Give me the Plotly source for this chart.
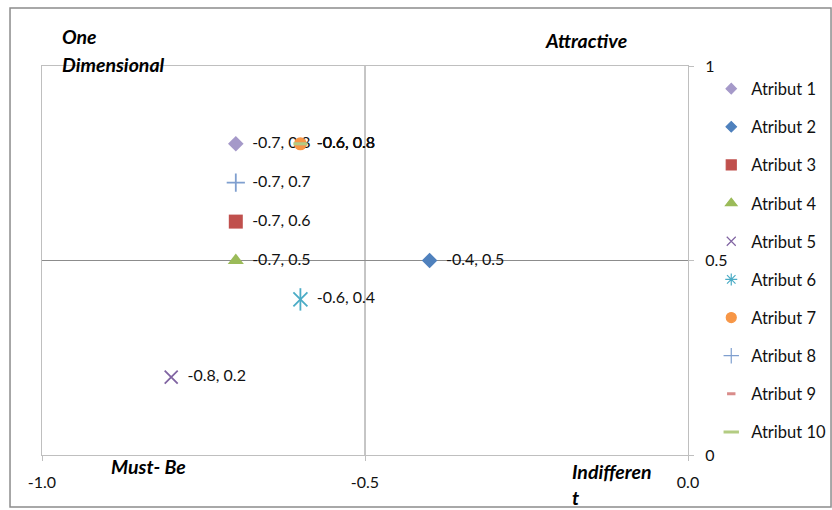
import plotly.graph_objects as go

# Kano quadrant positions of each attribute
names = ["Atribut 1", "Atribut 2", "Atribut 3", "Atribut 4", "Atribut 5",
         "Atribut 6", "Atribut 7", "Atribut 8", "Atribut 9", "Atribut 10"]
x_vals = [-0.7, -0.4, -0.7, -0.7, -0.8, -0.6, -0.6, -0.7, -0.6, -0.6]
y_vals = [0.8, 0.5, 0.6, 0.5, 0.2, 0.4, 0.8, 0.7, 0.8, 0.8]

colors = ["#A599C9", "#4F81BD", "#C0504D", "#9BBB59", "#8064A2",
          "#4BACC6", "#F79646", "#7F9FCF", "#D98C8A", "#B3CC82"]
symbols = ["diamond", "diamond", "square", "triangle-up", "x-thin-open",
           "x-thin-open", "circle", "cross-thin-open", "line-ew-open", "line-ew-open"]
sizes = [12, 12, 14, 14, 13, 14, 13, 13, 7, 10]
legend_sizes = [8, 8, 10, 10, 9, 10, 10, 11, 6, 11]

x_ticks = [-1.0, -0.5, 0.0]
x_ticktext = ["-1.0", "-0.5", "0.0"]
y_ticks = [0, 0.5, 1]
y_ticktext = ["0", "0.5", "1"]

FONT = "Lato"
GRID = "#BFBFBF"
MID = "#8C8C8C"
INK = "#111111"


def line_width(sym):
    if sym.startswith("line"):
        return 3
    return 1.8 if sym.endswith("-open") else 0


fig = go.Figure()

for i, name in enumerate(names):
    sym = symbols[i]
    mk = dict(symbol=sym, size=sizes[i], color=colors[i],
              line=dict(color=colors[i], width=line_width(sym)))
    fig.add_trace(go.Scatter(
        x=[x_vals[i]], y=[y_vals[i]], name=name, legendgroup=name,
        showlegend=False, mode="markers", marker=mk,
    ))
    if name == "Atribut 6":
        # vertical stroke completing the star marker
        fig.add_trace(go.Scatter(
            x=[x_vals[i]], y=[y_vals[i]], legendgroup=name, showlegend=False,
            mode="markers", hoverinfo="skip",
            marker=dict(symbol="line-ns-open", size=16, color=colors[i],
                        line=dict(color=colors[i], width=1.8)),
        ))
    # data label "x, y"
    fig.add_trace(go.Scatter(
        x=[x_vals[i]], y=[y_vals[i]], legendgroup=name, showlegend=False,
        mode="text", text=[f"    {x_vals[i]:.1f}, {y_vals[i]:.1f}"],
        textposition="middle right", hoverinfo="skip",
        textfont=dict(family=FONT, size=16, color=INK), cliponaxis=False,
    ))

# legend entries with compact symbols
for i, name in enumerate(names):
    sym = symbols[i]
    fig.add_trace(go.Scatter(
        x=[None], y=[None], name=name, legendgroup=name, mode="markers",
        marker=dict(symbol=sym if name != "Atribut 6" else "asterisk-open",
                    size=legend_sizes[i], color=colors[i],
                    line=dict(color=colors[i],
                              width=line_width(sym) if sym.startswith("line") else 1.2)),
    ))

# quadrant divider lines
fig.add_shape(type="line", x0=-0.5, x1=-0.5, y0=0, y1=1, xref="x", yref="y",
              line=dict(color=MID, width=1), layer="below")
fig.add_shape(type="line", x0=-1, x1=0, y0=0.5, y1=0.5, xref="x", yref="y",
              line=dict(color=MID, width=1), layer="below")

# chart border
fig.add_shape(type="rect", xref="paper", yref="paper",
              x0=-0.0495, x1=1.2214, y0=-0.1337, y1=1.149,
              line=dict(color="#8C8C8C", width=1.5), layer="below")

qfont = dict(family=FONT, size=19.5, color="#000000")
quad_labels = [
    ("<b><i>One</i></b>", 0.028, 1.0746),
    ("<b><i>Dimensional</i></b>", 0.028, 1.0026),
    ("<b><i>Attractive</i></b>", 0.7755, 1.0668),
    ("<b><i>Must- Be</i></b>", 0.1037, -0.0290),
    ("<b><i>Indifferen</i></b>", 0.8173, -0.0437),
    ("<b><i>t</i></b>", 0.8173, -0.1080),
]
for txt, ax, ay in quad_labels:
    fig.add_annotation(text=txt, x=ax, y=ay, xref="paper", yref="paper",
                       xanchor="left", yanchor="middle", showarrow=False,
                       font=qfont)

fig.update_layout(
    width=832, height=510,
    margin=dict(l=42, r=144, t=66, b=55, autoexpand=False),
    paper_bgcolor="white", plot_bgcolor="white",
    font=dict(family=FONT, size=16, color=INK),
    showlegend=True,
    legend=dict(x=1.036, xanchor="left", y=0.986, yanchor="top",
                traceorder="grouped", tracegroupgap=13.7, maxheight=480,
                font=dict(family=FONT, size=16.5, color=INK),
                bgcolor="rgba(0,0,0,0)", itemwidth=30),
    xaxis=dict(range=[-1, 0], tickvals=x_ticks, ticktext=x_ticktext,
               showgrid=False, zeroline=False, showline=True, mirror=True,
               linecolor=GRID, linewidth=1, ticks="outside", ticklen=5,
               tickcolor=GRID, ticklabelstandoff=8,
               tickfont=dict(family=FONT, size=16, color=INK)),
    yaxis=dict(range=[0, 1], tickvals=y_ticks, ticktext=y_ticktext,
               side="right", showgrid=False, zeroline=False, showline=True,
               mirror=True, linecolor=GRID, linewidth=1, ticks="outside",
               ticklen=5, tickcolor=GRID, ticklabelstandoff=8,
               tickfont=dict(family=FONT, size=16, color=INK)),
)

fig.write_html("out.html")
